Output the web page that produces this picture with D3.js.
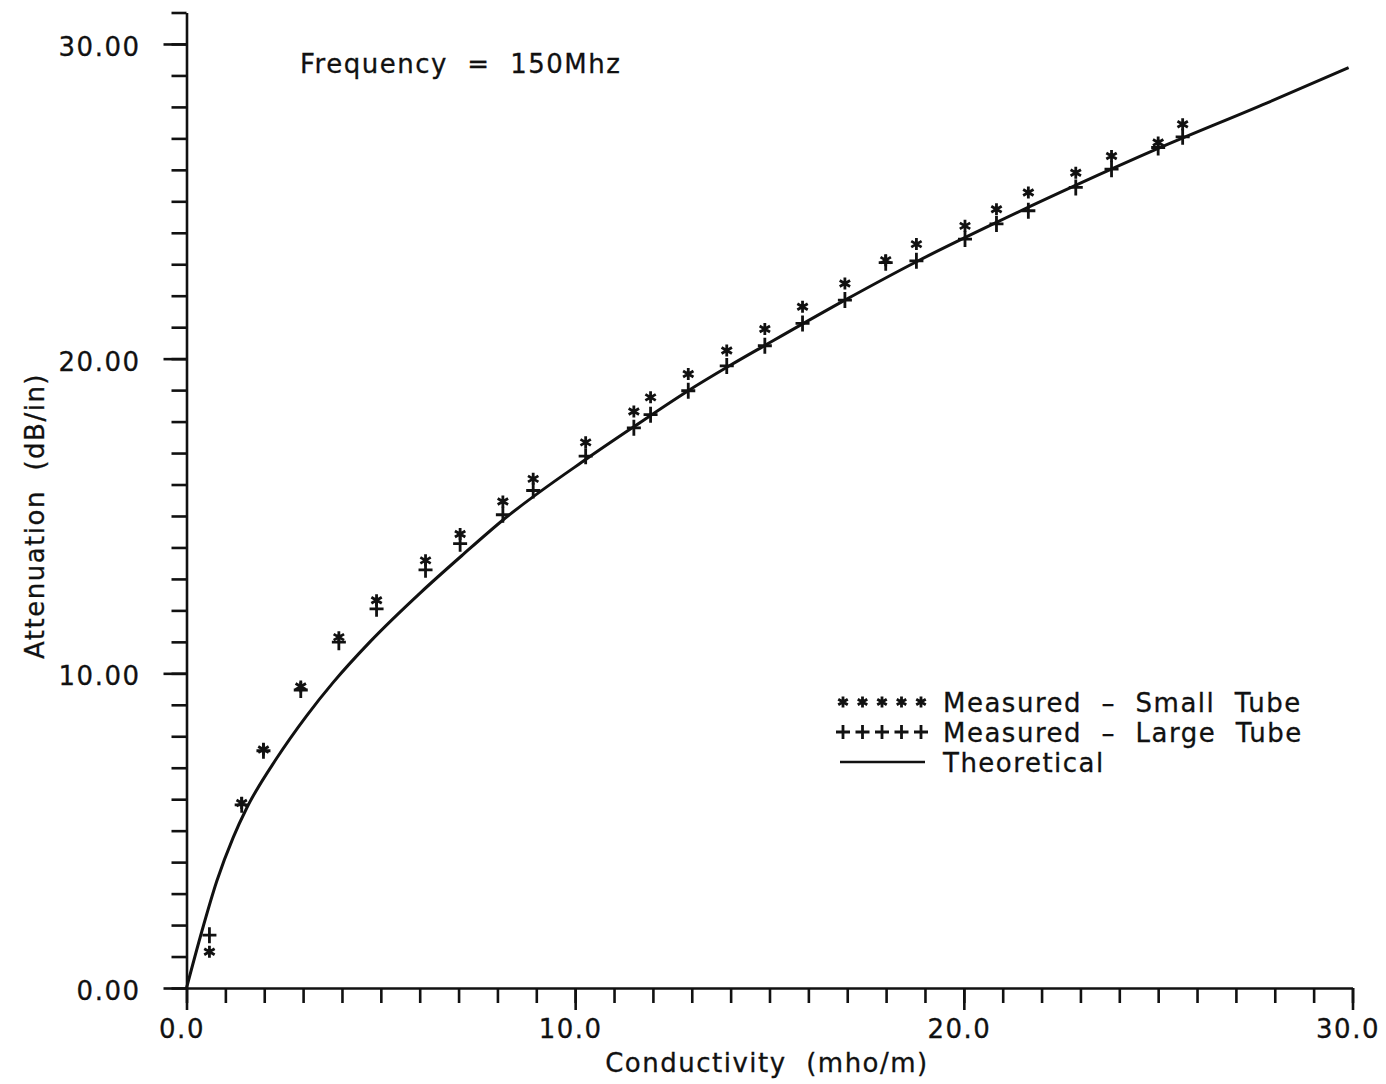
<!DOCTYPE html>
<html lang="en">

<head>
    <meta charset="UTF-8">
    <title>Attenuation vs Conductivity</title>
    <script src="https://d3js.org/d3.v7.min.js"></script>
    <style>
        body {
            margin: 0;
            background: #fff;
        }

        text {
            font-family: "DejaVu Sans", sans-serif;
            font-size: 26px;
            letter-spacing: 1.5px;
            fill: #111;
            stroke: #111;
            stroke-width: 0.3;
            white-space: pre;
        }

        .axis path,
        .axis line {
            stroke: #111;
            stroke-width: 2.6;
        }

        .marker {
            stroke: #111;
            stroke-width: 2.8;
            fill: none;
        }
    </style>
</head>

<body>
    <script>
        // conductivity (mho/m) of the measured points
        const sigma = [0.59, 1.42, 1.98, 2.94, 3.92, 4.89, 6.15, 7.04, 8.14, 8.92, 10.27, 11.51, 11.94, 12.91,
            13.90, 14.88, 15.85, 16.94, 17.99, 18.78, 20.03, 20.84, 21.66, 22.88, 23.80, 25.00, 25.63];
        // attenuation (dB/in), small tube (*)
        const smallTube = [1.15, 5.88, 7.58, 9.58, 11.15, 12.32, 13.59, 14.43, 15.46, 16.18, 17.34, 18.32, 18.77, 19.51,
            20.26, 20.94, 21.65, 22.39, 23.13, 23.64, 24.22, 24.75, 25.28, 25.91, 26.44, 26.87, 27.45];
        // attenuation (dB/in), large tube (+)
        const largeTube = [1.68, 5.82, 7.54, 9.47, 10.99, 12.05, 13.29, 14.12, 15.04, 15.81, 16.90, 17.80, 18.22, 18.98,
            19.77, 20.41, 21.12, 21.86, 23.05, 23.11, 23.80, 24.28, 24.70, 25.44, 26.02, 26.71, 27.05];
        // theoretical curve
        const theoSigma = [0, 0.39, 0.78, 1.20, 1.55, 2.32, 3.09, 3.78, 4.72, 6.01, 7.12, 8.15, 10.30, 11.49,
            12.87, 13.98, 14.88, 16.94, 18.78, 20.84, 22.90, 25.00, 27.79, 29.90];
        const theoAtten = [0, 1.78, 3.40, 4.78, 5.72, 7.30, 8.65, 9.72, 11.00, 12.55, 13.78, 14.88, 16.82, 17.82,
            18.95, 19.78, 20.42, 21.86, 23.08, 24.33, 25.52, 26.68, 28.12, 29.25];

        const xMajor = [0, 10, 20, 30];
        const yMajor = [0, 10, 20, 30];
        const legendLabels = ["Measured  \u2013  Small  Tube", "Measured  \u2013  Large  Tube", "Theoretical"];

        const width = 1386, height = 1084;

        const svg = d3.select("body").append("svg")
            .attr("width", width)
            .attr("height", height);

        const x = d3.scaleLinear().domain([0, 30]).range([186.5, 1352.5]);
        const y = d3.scaleLinear().domain([0, 31]).range([988, 12.5]);

        // x axis: minor ticks every unit, longer labelled ticks every 10
        svg.append("g")
            .attr("class", "axis")
            .attr("transform", "translate(0," + y(0) + ")")
            .call(d3.axisBottom(x).tickValues(d3.range(0, 31)).tickSize(15).tickSizeOuter(0).tickFormat(""));
        const xg = svg.append("g")
            .attr("class", "axis")
            .attr("transform", "translate(0," + y(0) + ")")
            .call(d3.axisBottom(x).tickValues(xMajor).tickSize(22).tickSizeOuter(0).tickPadding(10)
                .tickFormat(d3.format(".1f")));
        xg.select(".domain").remove();
        xg.selectAll("text")
            .attr("font-family", null).attr("font-size", null)
            .attr("dx", "-5");

        // y axis
        svg.append("g")
            .attr("class", "axis")
            .attr("transform", "translate(" + x(0) + ",0)")
            .call(d3.axisLeft(y).tickValues(d3.range(0, 32)).tickSize(15).tickSizeOuter(0).tickFormat(""));
        const yg = svg.append("g")
            .attr("class", "axis")
            .attr("transform", "translate(" + x(0) + ",0)")
            .call(d3.axisLeft(y).tickValues(yMajor).tickSize(23).tickSizeOuter(0).tickPadding(23)
                .tickFormat(d3.format(".2f")));
        yg.select(".domain").remove();
        yg.selectAll("text")
            .attr("font-family", null).attr("font-size", null)
            .attr("dy", "0.44em");
        svg.selectAll(".axis text").style("fill", "#111");

        // theoretical curve
        const theo = theoSigma.map((s, i) => [s, theoAtten[i]]);
        svg.append("path")
            .datum(theo)
            .attr("fill", "none")
            .attr("stroke", "#111")
            .attr("stroke-width", 3)
            .attr("d", d3.line()
                .x(d => x(d[0]))
                .y(d => y(d[1]))
                .curve(d3.curveMonotoneX));

        // marker shapes
        const starPath = r => {
            const c = Math.cos(Math.PI / 6) * r, s = Math.sin(Math.PI / 6) * r;
            return "M0," + (-r) + "L0," + r +
                "M" + (-c) + "," + (-s) + "L" + c + "," + s +
                "M" + (-c) + "," + s + "L" + c + "," + (-s);
        };
        const plusPath = (w, h) => "M" + (-w) + ",0L" + w + ",0M0," + (-h) + "L0," + h;

        svg.selectAll(".large")
            .data(sigma)
            .enter().append("path")
            .attr("class", "marker large")
            .attr("transform", (d, i) => "translate(" + x(d) + "," + y(largeTube[i]) + ")")
            .attr("d", plusPath(7, 8));

        svg.selectAll(".small")
            .data(sigma)
            .enter().append("path")
            .attr("class", "marker small")
            .attr("transform", (d, i) => "translate(" + x(d) + "," + y(smallTube[i]) + ")")
            .attr("d", starPath(6));

        // annotation
        svg.append("text")
            .attr("x", 300)
            .attr("y", 73)
            .text("Frequency  =  150Mhz");

        // axis titles
        svg.append("text")
            .attr("x", 767)
            .attr("y", 1072)
            .attr("text-anchor", "middle")
            .text("Conductivity  (mho/m)");

        svg.append("text")
            .attr("transform", "translate(44,516) rotate(-90)")
            .attr("text-anchor", "middle")
            .text("Attenuation  (dB/in)");

        // legend
        const legend = svg.append("g").attr("transform", "translate(843,702)");
        const rowH = 30;
        d3.range(5).forEach(k => {
            legend.append("path").attr("class", "marker")
                .attr("transform", "translate(" + (k * 19.5) + ",0)")
                .attr("d", starPath(5.5));
            legend.append("path").attr("class", "marker")
                .attr("transform", "translate(" + (k * 19.5) + "," + rowH + ")")
                .attr("d", plusPath(7, 7));
        });
        legend.append("line")
            .attr("x1", -3).attr("x2", 82)
            .attr("y1", rowH * 2).attr("y2", rowH * 2)
            .attr("stroke", "#111").attr("stroke-width", 2.6);
        legend.selectAll(".legend-label")
            .data(legendLabels)
            .enter().append("text")
            .attr("class", "legend-label")
            .attr("x", 100)
            .attr("y", (d, i) => i * rowH + 9.5)
            .text(d => d);
    </script>
</body>

</html>
